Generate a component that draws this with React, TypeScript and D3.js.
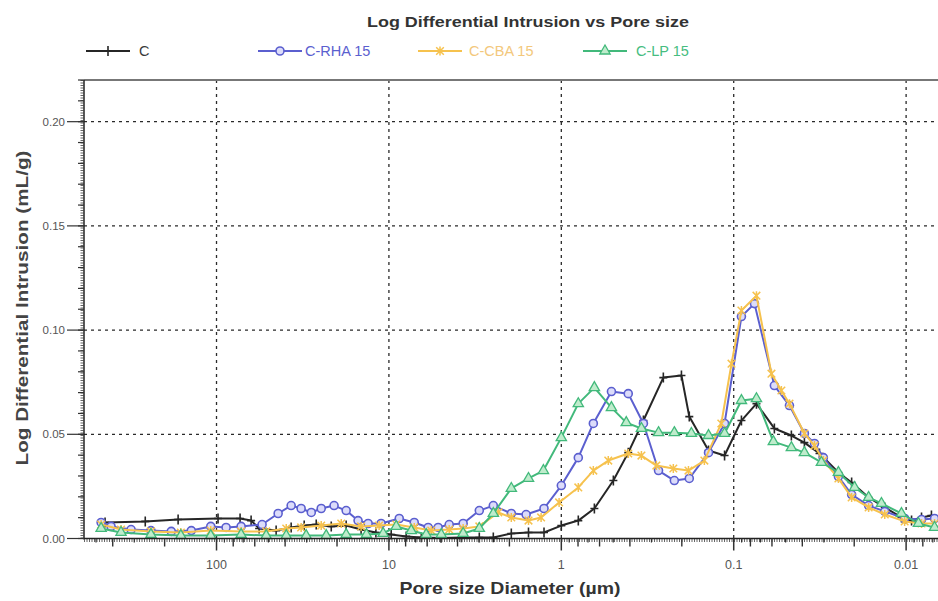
import React from "react";
import * as d3 from "d3";

// ---------- data (pore diameter in µm, log differential intrusion in mL/g) ----------
const cDiam = [443, 259, 167, 98, 73, 63, 56.6, 45.1, 36.9, 31.0, 26.4, 21.6, 17.7, 14.5, 11.9, 9.7, 7.94, 6.49, 4.97, 3.8, 2.99, 2.48, 1.95, 1.55, 1.26, 1.0, 0.797, 0.643, 0.499, 0.409, 0.334, 0.256, 0.201, 0.181, 0.14, 0.113, 0.0902, 0.0738, 0.0581, 0.0463, 0.0389, 0.0318, 0.0247, 0.0207, 0.0165, 0.0133, 0.01064, 0.0093, 0.00814, 0.00713];
const cVal = [0.0077, 0.0082, 0.0091, 0.0096, 0.0096, 0.0086, 0.0048, 0.0038, 0.0053, 0.0062, 0.0067, 0.0058, 0.0062, 0.0043, 0.0029, 0.0019, 0.001, 0.0005, 0.0002, 0.0005, 0.0005, 0.0005, 0.0024, 0.0029, 0.0029, 0.0062, 0.0086, 0.0144, 0.0278, 0.0412, 0.0566, 0.0772, 0.0782, 0.0585, 0.0422, 0.0398, 0.0566, 0.0647, 0.0528, 0.0494, 0.046, 0.0408, 0.0317, 0.0269, 0.0197, 0.0149, 0.0101, 0.0086, 0.0101, 0.011];

const rhaDiam = [467, 409, 313, 240, 183, 140, 108, 88, 72, 54.4, 43.9, 36.9, 32.3, 28.2, 24.7, 20.8, 17.7, 15.1, 13.2, 11.1, 8.71, 7.13, 5.92, 5.18, 4.47, 3.71, 2.99, 2.48, 1.95, 1.6, 1.26, 1.0, 0.797, 0.652, 0.512, 0.409, 0.334, 0.273, 0.221, 0.181, 0.14, 0.113, 0.0902, 0.0758, 0.0581, 0.0475, 0.0389, 0.034, 0.0302, 0.0247, 0.0207, 0.0165, 0.0133, 0.0102, 0.00814, 0.00684];
const rhaVal = [0.0077, 0.0058, 0.0043, 0.0038, 0.0034, 0.0038, 0.0058, 0.0053, 0.0058, 0.0067, 0.012, 0.0158, 0.0144, 0.0125, 0.0144, 0.0158, 0.0134, 0.0086, 0.0072, 0.0072, 0.0096, 0.0077, 0.0053, 0.0053, 0.0067, 0.0072, 0.0134, 0.0158, 0.012, 0.0115, 0.0144, 0.0254, 0.0388, 0.0552, 0.0705, 0.0695, 0.0552, 0.0326, 0.0278, 0.0288, 0.0412, 0.0552, 0.1065, 0.1127, 0.0734, 0.0638, 0.0504, 0.0456, 0.0388, 0.0297, 0.0211, 0.0158, 0.013, 0.0096, 0.0091, 0.0096];

const cbaDiam = [467, 358, 240, 161, 108, 72, 51.5, 39.4, 32.3, 24.7, 18.9, 14.5, 11.4, 9.07, 7.13, 5.68, 4.47, 3.71, 2.99, 2.32, 1.95, 1.55, 1.31, 1.03, 0.797, 0.652, 0.534, 0.409, 0.343, 0.281, 0.224, 0.183, 0.148, 0.118, 0.103, 0.0902, 0.0738, 0.0604, 0.0529, 0.0475, 0.0389, 0.034, 0.0302, 0.0247, 0.0207, 0.0165, 0.0133, 0.0102, 0.00814, 0.00684];
const cbaVal = [0.0067, 0.0043, 0.0034, 0.0029, 0.0038, 0.0034, 0.0034, 0.0048, 0.0053, 0.0062, 0.0072, 0.0058, 0.0062, 0.0067, 0.0053, 0.0038, 0.0043, 0.0048, 0.0058, 0.0125, 0.0101, 0.0086, 0.0101, 0.0173, 0.0245, 0.0326, 0.0374, 0.0408, 0.0398, 0.035, 0.0336, 0.0326, 0.0374, 0.0552, 0.0839, 0.1094, 0.1165, 0.0791, 0.071, 0.0647, 0.0504, 0.0446, 0.0374, 0.0288, 0.0197, 0.0149, 0.0115, 0.0082, 0.0072, 0.0072];

const lpDiam = [467, 358, 240, 161, 108, 72, 51.5, 39.4, 30.2, 23.1, 17.7, 13.5, 10.8, 9.07, 7.42, 6.08, 4.97, 3.71, 2.99, 2.48, 1.95, 1.55, 1.27, 1.0, 0.797, 0.643, 0.512, 0.42, 0.343, 0.273, 0.221, 0.176, 0.14, 0.113, 0.0902, 0.0738, 0.0589, 0.0463, 0.0389, 0.031, 0.0247, 0.0199, 0.0165, 0.0139, 0.01064, 0.00848, 0.00684];
const lpVal = [0.0048, 0.0029, 0.0019, 0.0014, 0.0014, 0.0019, 0.0014, 0.0014, 0.0014, 0.0014, 0.0019, 0.0019, 0.0024, 0.0058, 0.0038, 0.0019, 0.0019, 0.0024, 0.0048, 0.012, 0.024, 0.0288, 0.0326, 0.0484, 0.0647, 0.0724, 0.0628, 0.0556, 0.0528, 0.0508, 0.0508, 0.0504, 0.0494, 0.0504, 0.0662, 0.0671, 0.0465, 0.0436, 0.0412, 0.0365, 0.0317, 0.0245, 0.0197, 0.0168, 0.012, 0.0072, 0.0053];

const seriesNames = ["C", "C-RHA 15", "C-CBA 15", "C-LP 15"];
const seriesColors = ["#262626", "#5b5fcf", "#f6c24e", "#42b97b"];
const legendTextColors = ["#3a3a3a", "#5b5fcf", "#f3c87c", "#46bd80"];

const xTickValues = [100, 10, 1, 0.1, 0.01];
const xTickLabels = ["100", "10", "1", "0.1", "0.01"];
const yTickValues = [0, 0.05, 0.1, 0.15, 0.2];
const yTickLabels = ["0.00", "0.05", "0.10", "0.15", "0.20"];

const titleText = "Log Differential Intrusion vs Pore size";
const xAxisTitle = "Pore size Diameter (\u00b5m)";
const yAxisTitle = "Log Differential Intrusion (mL/g)";

// ---------- layout ----------
const W = 938;
const H = 601;
const left = 84;
const top = 80;
const bottom = 538.5;
const right = 938;
const pxPerDecade = 172.4;
const xMaxD = 587;
const xMinD = 0.005;

const FONT = "'Liberation Sans', Arial, Helvetica, sans-serif";
const NARROW = "'Liberation Sans Narrow', 'Liberation Sans', Arial, sans-serif";

function Marker({ kind, color, x, y }: { kind: number; color: string; x: number; y: number }) {
  if (kind === 0) {
    return <path d={`M${x - 4},${y}H${x + 4}M${x},${y - 5}V${y + 5}`} stroke={color} strokeWidth={1.6} fill="none" />;
  }
  if (kind === 1) {
    return <circle cx={x} cy={y} r={4} fill="#dcdcfa" stroke={color} strokeWidth={1.6} />;
  }
  if (kind === 2) {
    return (
      <path
        d={`M${x - 3.8},${y - 3.8}L${x + 3.8},${y + 3.8}M${x - 3.8},${y + 3.8}L${x + 3.8},${y - 3.8}M${x},${y - 4.5}V${y + 4.5}`}
        stroke={color}
        strokeWidth={1.5}
        fill="none"
      />
    );
  }
  const tri = d3.symbol().type(d3.symbolTriangle).size(46)() as string;
  return <path d={tri} transform={`translate(${x},${y})`} fill="#bfeccc" stroke={color} strokeWidth={1.3} />;
}

export default function App() {
  const x = d3
    .scaleLog()
    .domain([xMaxD, xMinD])
    .range([left, left + pxPerDecade * Math.log10(xMaxD / xMinD)]);
  const y = d3.scaleLinear().domain([0, 0.22]).range([bottom, top]);

  const series = [
    { d: cDiam, v: cVal },
    { d: rhaDiam, v: rhaVal },
    { d: cbaDiam, v: cbaVal },
    { d: lpDiam, v: lpVal },
  ];

  const line = d3
    .line<[number, number]>()
    .x((p) => x(p[0]))
    .y((p) => y(p[1]));

  const medTicks: number[] = [];
  const smallTicks: number[] = [];
  for (let e = -3; e <= 2; e++) {
    for (let m = 2; m <= 9; m++) {
      const val = m * Math.pow(10, e);
      if (val > xMaxD || val < xMinD) continue;
      if (m % 2 === 0) medTicks.push(val);
      else smallTicks.push(val);
    }
  }
  const yMinor = d3.range(0, 0.221, 0.01);

  return (
    <div style={{ position: "absolute", left: 0, top: 0, width: W, height: H, background: "#fff" }}>
      <svg width={W} height={H} viewBox={`0 0 ${W} ${H}`} style={{ display: "block" }}>
        <defs>
          <clipPath id="plotClip">
            <rect x={left} y={top - 6} width={right - left} height={bottom - top + 10} />
          </clipPath>
        </defs>
        <rect x={0} y={0} width={W} height={H} fill="#fff" />

        <text x={528} y={27} textAnchor="middle" fontFamily={NARROW} fontWeight="bold" fontSize={15.5} fill="#333" textLength={322} lengthAdjust="spacingAndGlyphs">
          {titleText}
        </text>

        {[
          { lx: 86, tx: 139 },
          { lx: 258, tx: 305 },
          { lx: 418, tx: 469 },
          { lx: 583, tx: 636 },
        ].map((p, i) => (
          <g key={i}>
            <line x1={p.lx} x2={p.lx + 44} y1={51} y2={51} stroke={seriesColors[i]} strokeWidth={2} />
            <Marker kind={i} color={seriesColors[i]} x={p.lx + 22} y={51} />
            <text x={p.tx} y={56} fontFamily={FONT} fontSize={14.5} fill={legendTextColors[i]}>
              {seriesNames[i]}
            </text>
          </g>
        ))}

        {yTickValues.slice(1).map((v) => (
          <line key={"gy" + v} x1={left} x2={right} y1={y(v)} y2={y(v)} stroke="#2a2a2a" strokeWidth={1.3} strokeDasharray="3 4" />
        ))}
        {xTickValues.map((v) => (
          <line key={"gx" + v} x1={x(v)} x2={x(v)} y1={top} y2={bottom} stroke="#2a2a2a" strokeWidth={1.3} strokeDasharray="3 4" />
        ))}

        <line x1={left} x2={right} y1={top} y2={top} stroke="#777" strokeWidth={2} />

        <g clipPath="url(#plotClip)">
          {series.map((s, i) => {
            const pts = s.d.map((d, k) => [d, s.v[k]] as [number, number]);
            return (
              <g key={i}>
                <path d={line(pts) as string} fill="none" stroke={seriesColors[i]} strokeWidth={2} strokeLinejoin="round" />
                {pts.map((p, k) => (
                  <Marker key={k} kind={i} color={seriesColors[i]} x={x(p[0])} y={y(p[1])} />
                ))}
              </g>
            );
          })}
        </g>

        <line x1={left - 2} x2={left - 2} y1={top} y2={bottom} stroke="#666" strokeWidth={3} strokeDasharray="1 1.5" />
        <line x1={left} x2={left} y1={top} y2={bottom + 1} stroke="#222" strokeWidth={1.5} />
        {yMinor.map((v, k) => (
          <line key={"ym" + k} x1={left - 6} x2={left} y1={y(v)} y2={y(v)} stroke="#333" strokeWidth={1.2} />
        ))}
        {yTickValues.map((v, k) => (
          <g key={"yt" + k}>
            <line x1={left - 17} x2={left} y1={y(v)} y2={y(v)} stroke="#333" strokeWidth={1.2} />
            <text x={left - 19} y={y(v) + 4} textAnchor="end" fontFamily={FONT} fontSize={11.5} fill="#555">
              {yTickLabels[k]}
            </text>
          </g>
        ))}

        <line x1={left} x2={right} y1={bottom + 2} y2={bottom + 2} stroke="#666" strokeWidth={3} strokeDasharray="1 1.5" />
        <line x1={left} x2={right} y1={bottom} y2={bottom} stroke="#222" strokeWidth={1.5} />
        {smallTicks.map((v, k) => (
          <line key={"xs" + k} x1={x(v)} x2={x(v)} y1={bottom} y2={bottom + 4} stroke="#333" strokeWidth={1.2} />
        ))}
        {medTicks.map((v, k) => (
          <line key={"xm" + k} x1={x(v)} x2={x(v)} y1={bottom} y2={bottom + 8} stroke="#333" strokeWidth={1.4} />
        ))}
        {xTickValues.map((v, k) => (
          <g key={"xt" + k}>
            <line x1={x(v)} x2={x(v)} y1={bottom} y2={bottom + 12} stroke="#333" strokeWidth={1.5} />
            <text x={x(v)} y={569} textAnchor="middle" fontFamily={FONT} fontSize={12.5} fill="#555">
              {xTickLabels[k]}
            </text>
          </g>
        ))}

        <text x={510} y={594} textAnchor="middle" fontFamily={FONT} fontWeight="bold" fontSize={17} fill="#333" textLength={221} lengthAdjust="spacingAndGlyphs">
          {xAxisTitle}
        </text>
        <text transform={`translate(28,${308}) rotate(-90)`} textAnchor="middle" fontFamily={FONT} fontWeight="bold" fontSize={16} fill="#444" textLength={315} lengthAdjust="spacingAndGlyphs">
          {yAxisTitle}
        </text>
      </svg>
    </div>
  );
}
